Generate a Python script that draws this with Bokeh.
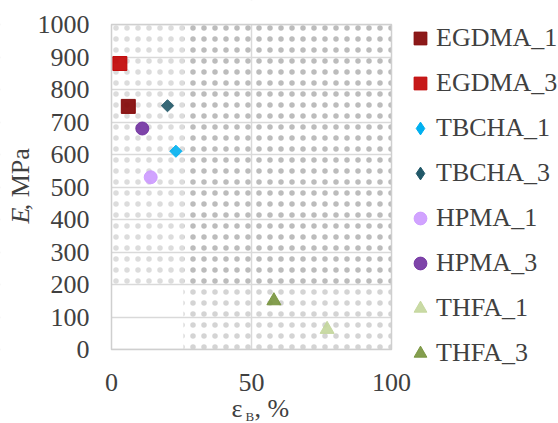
import numpy as np
from bokeh.plotting import figure
from bokeh.models import (Range1d, FixedTicker, Legend, LegendItem,
                          ColumnDataSource, LinearAxis, Label)
from bokeh.embed import file_html
from bokeh.resources import INLINE

# Samples: elongation at break (εB, %) and Young's modulus (E, MPa)
series_names = ["EGDMA_1", "EGDMA_3", "TBCHA_1", "TBCHA_3",
                "HPMA_1", "HPMA_3", "THFA_1", "THFA_3"]
elongation = [6, 3, 23, 20, 14, 11, 77, 58]
modulus = [748, 880, 610, 750, 530, 680, 62, 150]
colors = ["#7f0000", "#c00000", "#00b0f0", "#215868",
          "#cc99ff", "#7030a0", "#c3d69b", "#77933c"]
markers = ["square", "square", "diamond", "diamond",
           "circle", "circle", "triangle", "triangle"]

x_ticks = [0, 50, 100]
y_ticks = [0, 100, 200, 300, 400, 500, 600, 700, 800, 900, 1000]
x_max = 100
y_max = 1000

FONT = "Liberation Serif"
TEXT = "#404040"
GRID = "#d9d9d9"

# canvas and plot-area box (pixels from the top-left corner)
W, H = 558, 423
BOX_L, BOX_T, BOX_R, BOX_B = 111, 24, 391, 349

# The frame fills the whole canvas so that axes, legend and titles are never
# clipped; the ranges are widened to keep 0..100 / 0..1000 on the box.
x_scale = (BOX_R - BOX_L) / x_max
y_scale = (BOX_B - BOX_T) / y_max
x_start, x_end = -BOX_L / x_scale, (W - BOX_L) / x_scale
y_start, y_end = -(H - BOX_B) / y_scale, y_max + BOX_T / y_scale

p = figure(width=W, height=H, output_backend="svg", toolbar_location=None,
           x_range=Range1d(x_start, x_end), y_range=Range1d(y_start, y_end),
           min_border=0)
p.background_fill_color = "white"
p.border_fill_color = "white"
p.outline_line_color = None

# dotted plot-area texture
dot_kw = dict(fill_alpha=0, line_alpha=0, hatch_pattern="dot",
              hatch_scale=11, hatch_weight=0.6)
p.quad(left=[25.7], right=[x_max], bottom=[200], top=[y_max],
       hatch_color="#bcbcbc", **dot_kw)
p.quad(left=[0], right=[25.7], bottom=[200], top=[y_max],
       hatch_color="#dcdcdc", **dot_kw)
p.quad(left=[25.7], right=[x_max], bottom=[0], top=[200],
       hatch_color="#d4d4d4", **dot_kw)

# grid lines, trimmed to the plot area by blank strips
p.xgrid.ticker = FixedTicker(ticks=[50])
p.ygrid.ticker = FixedTicker(ticks=y_ticks)
for g in (p.xgrid, p.ygrid):
    g.grid_line_color = GRID
    g.grid_line_width = 1.5
blank = dict(fill_color="white", line_color=None)
p.quad(left=[x_start], right=[0], bottom=[y_start], top=[y_end], **blank)
p.quad(left=[x_max], right=[x_end], bottom=[y_start], top=[y_end], **blank)
p.quad(left=[0], right=[x_max], bottom=[y_start], top=[0], **blank)
p.quad(left=[0], right=[x_max], bottom=[y_max], top=[y_end], **blank)
# plot-area border
p.quad(left=[0], right=[x_max], bottom=[0], top=[y_max],
       fill_alpha=0, line_color="#cfcfcf", line_width=1.5)


def plain_axis(ax, size="26px", style="normal"):
    ax.fixed_location = 0
    ax.axis_line_color = None
    ax.major_tick_line_color = None
    ax.minor_tick_line_color = None
    ax.major_tick_out = 0
    ax.major_tick_in = 0
    ax.major_label_text_font = FONT
    ax.major_label_text_font_size = size
    ax.major_label_text_font_style = style
    ax.major_label_text_color = TEXT


def spacer(place):
    # keeps the side panel from taking room away from the frame
    s = LinearAxis(ticker=FixedTicker(ticks=[]), axis_line_color=None,
                   major_tick_line_color=None, minor_tick_line_color=None,
                   major_tick_in=0, major_tick_out=-400,
                   major_label_standoff=0)
    p.add_layout(s, place)


# axes, pinned to x = 0 / y = 0
p.xaxis.ticker = FixedTicker(ticks=x_ticks)
p.yaxis.ticker = FixedTicker(ticks=y_ticks)
for ax in (p.xaxis, p.yaxis):
    plain_axis(ax)
p.yaxis.major_label_standoff = 22
p.xaxis.major_label_standoff = 24

# y title "E, MPa": italic E and upright ", MPa" on one rotated line
e_axis = LinearAxis(ticker=FixedTicker(ticks=[412]),
                    major_label_overrides={412: "E"},
                    major_label_orientation="vertical",
                    major_label_standoff=76)
plain_axis(e_axis, style="italic")
p.add_layout(e_axis, "left")
mpa_axis = LinearAxis(ticker=FixedTicker(ticks=[524]),
                      major_label_overrides={524: ", MPa"},
                      major_label_orientation="vertical",
                      major_label_standoff=76)
plain_axis(mpa_axis)
p.add_layout(mpa_axis, "left")
spacer("left")
spacer("below")

# points
legend_items = []
for name, x, y, c, m in zip(series_names, elongation, modulus, colors, markers):
    src = ColumnDataSource(dict(x=[x], y=[y]))
    if m == "diamond":
        p.scatter("x", "y", source=src, marker="square", angle=np.pi / 4,
                  size=8.6, fill_color=c, line_color=c, fill_alpha=0.9,
                  line_alpha=0.9)
        # legend swatch for the diamond series
        proxy = p.scatter(x=[np.nan], y=[np.nan], marker="diamond", size=12,
                          fill_color=c, line_color=c)
        legend_items.append(LegendItem(label=name, renderers=[proxy]))
    else:
        size = {"square": 14, "circle": 13, "triangle": 14}[m]
        r = p.scatter("x", "y", source=src, marker=m, size=size,
                      fill_color=c, line_color=c, fill_alpha=0.9, line_alpha=0.9)
        legend_items.append(LegendItem(label=name, renderers=[r]))

legend = Legend(items=legend_items, location=(404, H - 369),
                label_text_font=FONT, label_text_font_size="26px",
                label_text_color=TEXT, glyph_width=32, glyph_height=32,
                label_height=32, label_standoff=0, spacing=13,
                padding=0, margin=0, border_line_color=None,
                background_fill_alpha=0)
p.add_layout(legend)


def put(txt, cx, cy, size="26px"):
    # cx: canvas x of the text's left end, cy: canvas y of its middle
    p.add_layout(Label(x=cx, y=H - cy, x_units="screen", y_units="screen",
                       text=txt, text_font=FONT, text_font_size=size,
                       text_color=TEXT, text_align="left",
                       text_baseline="middle"))


# x title "εB, %" with subscript B
put("ε", 231, 408)
put("B", 245, 415.5, size="13px")
put(", %", 254, 408)

open("out.html", "w").write(file_html(p, INLINE))
